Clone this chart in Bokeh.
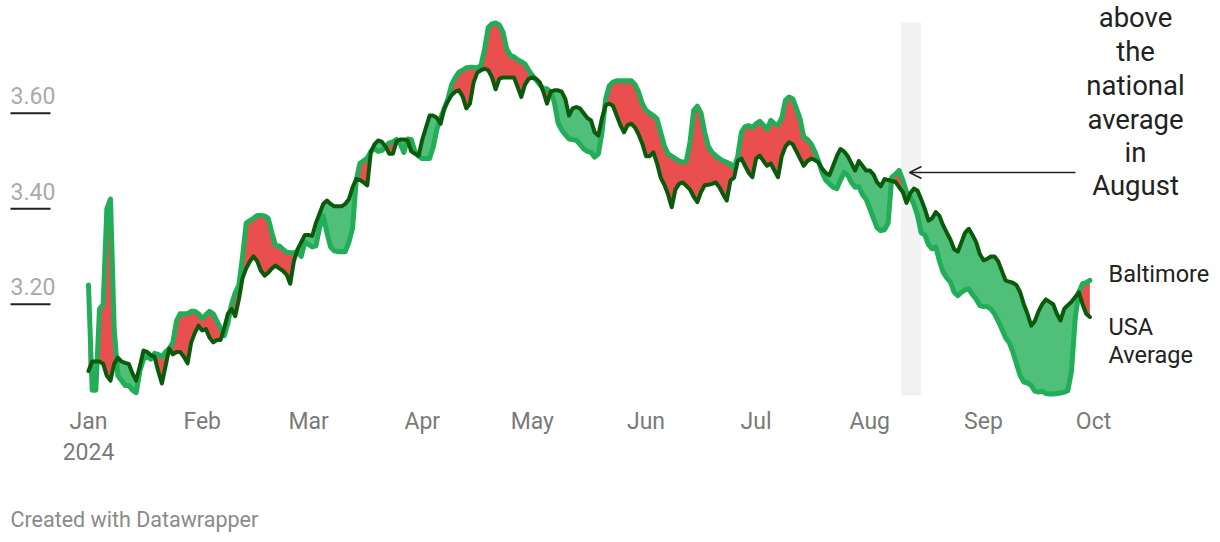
import numpy as np
import pandas as pd
from bokeh.plotting import figure
from bokeh.models import Range1d, Arrow, OpenHead
from bokeh.embed import file_html
from bokeh.resources import INLINE
from bokeh.core.properties import value

# ---------------- data ----------------
start_date = "2024-01-01"

baltimore = [
    3.24, 3.02, 3.02, 3.19, 3.20, 3.40, 3.42, 3.15, 3.05, 3.04,
    3.03, 3.03, 3.02, 3.015, 3.06, 3.085, 3.09, 3.085, 3.097, 3.095,
    3.09, 3.10, 3.107, 3.12, 3.165, 3.18, 3.18, 3.18, 3.185, 3.185,
    3.18, 3.17, 3.178, 3.185, 3.18, 3.165, 3.15, 3.134, 3.16, 3.20,
    3.224, 3.24, 3.30, 3.37, 3.375, 3.38, 3.386, 3.386, 3.385, 3.38,
    3.35, 3.323, 3.322, 3.315, 3.309, 3.308, 3.308, 3.31, 3.30, 3.33,
    3.325, 3.32, 3.322, 3.36, 3.385, 3.35, 3.32, 3.312, 3.31, 3.31,
    3.31, 3.33, 3.36, 3.46, 3.495, 3.50, 3.506, 3.52, 3.525, 3.52,
    3.522, 3.53, 3.538, 3.54, 3.545, 3.535, 3.518, 3.546, 3.545, 3.52,
    3.51, 3.505, 3.505, 3.505, 3.53, 3.567, 3.59, 3.61, 3.63, 3.66,
    3.675, 3.686, 3.69, 3.695, 3.696, 3.696, 3.695, 3.70, 3.735, 3.78,
    3.787, 3.789, 3.785, 3.77, 3.735, 3.721, 3.718, 3.712, 3.708, 3.703,
    3.69, 3.679, 3.67, 3.66, 3.652, 3.651, 3.645, 3.623, 3.58, 3.565,
    3.555, 3.546, 3.545, 3.543, 3.535, 3.525, 3.52, 3.518, 3.508, 3.515,
    3.56, 3.63, 3.658, 3.665, 3.668, 3.668, 3.668, 3.668, 3.668, 3.66,
    3.644, 3.62, 3.606, 3.60, 3.595, 3.588, 3.56, 3.532, 3.515, 3.51,
    3.505, 3.50, 3.497, 3.50, 3.54, 3.606, 3.615, 3.60, 3.56, 3.53,
    3.518, 3.511, 3.505, 3.50, 3.497, 3.494, 3.485, 3.51, 3.56, 3.572,
    3.574, 3.57, 3.578, 3.583, 3.575, 3.566, 3.585, 3.578, 3.575, 3.59,
    3.627, 3.634, 3.63, 3.61, 3.588, 3.55, 3.545, 3.536, 3.52, 3.50,
    3.476, 3.46, 3.452, 3.445, 3.442, 3.46, 3.476, 3.47, 3.455, 3.445,
    3.446, 3.43, 3.42, 3.40, 3.38, 3.36, 3.354, 3.356, 3.37, 3.466,
    3.472, 3.48, 3.46, 3.435, 3.425, 3.41, 3.386, 3.35, 3.345, 3.325,
    3.316, 3.32, 3.29, 3.267, 3.255, 3.246, 3.225, 3.218, 3.225, 3.23,
    3.232, 3.22, 3.211, 3.197, 3.195, 3.195, 3.19, 3.18, 3.165, 3.148,
    3.13, 3.12, 3.10, 3.075, 3.05, 3.037, 3.035, 3.03, 3.018, 3.016,
    3.018, 3.013, 3.012, 3.012, 3.013, 3.014, 3.016, 3.019, 3.06, 3.17,
    3.225, 3.243, 3.245, 3.25,
]

usa_average = [
    3.06, 3.08, 3.08, 3.08, 3.075, 3.05, 3.04, 3.075, 3.088, 3.08,
    3.077, 3.075, 3.055, 3.04, 3.07, 3.103, 3.10, 3.093, 3.09, 3.06,
    3.034, 3.07, 3.107, 3.095, 3.10, 3.10, 3.09, 3.076, 3.12, 3.14,
    3.155, 3.145, 3.148, 3.13, 3.12, 3.125, 3.125, 3.15, 3.18, 3.19,
    3.175, 3.21, 3.255, 3.275, 3.29, 3.30, 3.29, 3.27, 3.26, 3.266,
    3.275, 3.281, 3.275, 3.27, 3.262, 3.243, 3.29, 3.315, 3.33, 3.345,
    3.345, 3.343, 3.37, 3.39, 3.41, 3.417, 3.41, 3.405, 3.405, 3.405,
    3.41, 3.42, 3.445, 3.462, 3.46, 3.455, 3.449, 3.52, 3.535, 3.543,
    3.54, 3.53, 3.515, 3.515, 3.541, 3.545, 3.545, 3.543, 3.52, 3.515,
    3.511, 3.545, 3.57, 3.595, 3.595, 3.59, 3.578, 3.61, 3.625, 3.638,
    3.645, 3.648, 3.635, 3.61, 3.62, 3.665, 3.685, 3.69, 3.693, 3.69,
    3.675, 3.65, 3.672, 3.675, 3.675, 3.675, 3.675, 3.655, 3.634, 3.66,
    3.672, 3.675, 3.672, 3.665, 3.645, 3.62, 3.645, 3.648, 3.648, 3.645,
    3.63, 3.595, 3.61, 3.613, 3.61, 3.60, 3.59, 3.585, 3.56, 3.553,
    3.59, 3.617, 3.62, 3.615, 3.595, 3.575, 3.56, 3.575, 3.578, 3.57,
    3.555, 3.536, 3.51, 3.51, 3.518, 3.495, 3.465, 3.45, 3.43, 3.403,
    3.44, 3.452, 3.455, 3.448, 3.44, 3.425, 3.414, 3.435, 3.449, 3.45,
    3.452, 3.455, 3.445, 3.43, 3.417, 3.459, 3.465, 3.50, 3.505, 3.49,
    3.475, 3.466, 3.505, 3.511, 3.50, 3.49, 3.495, 3.48, 3.466, 3.51,
    3.53, 3.539, 3.535, 3.52, 3.505, 3.49, 3.50, 3.505, 3.502, 3.497,
    3.484, 3.475, 3.47, 3.49, 3.51, 3.525, 3.52, 3.51, 3.495, 3.48,
    3.50, 3.49, 3.48, 3.48, 3.472, 3.455, 3.447, 3.462, 3.46, 3.458,
    3.456, 3.445, 3.435, 3.412, 3.432, 3.442, 3.438, 3.42, 3.40, 3.375,
    3.38, 3.393, 3.385, 3.365, 3.35, 3.335, 3.315, 3.31, 3.33, 3.35,
    3.358, 3.345, 3.33, 3.305, 3.292, 3.295, 3.30, 3.30, 3.29, 3.27,
    3.25, 3.247, 3.245, 3.24, 3.225, 3.20, 3.18, 3.155, 3.165, 3.185,
    3.20, 3.21, 3.205, 3.20, 3.18, 3.166, 3.19, 3.198, 3.205, 3.215,
    3.225, 3.20, 3.18, 3.173,
]

month_labels = ["Jan", "Feb", "Mar", "Apr", "May", "Jun", "Jul", "Aug", "Sep", "Oct"]
month_starts = ["2024-01-01", "2024-02-01", "2024-03-01", "2024-04-01", "2024-05-01",
                "2024-06-01", "2024-07-01", "2024-08-01", "2024-09-01", "2024-10-01"]
year_label = "2024"
y_ticks = [3.20, 3.40, 3.60]
y_tick_labels = ["3.20", "3.40", "3.60"]
highlight_start = "2024-08-09 12:00"
highlight_end = "2024-08-15"
annotation_lines = ["above", "the", "national", "average", "in", "August"]
series_labels = ["Baltimore", "USA", "Average"]
credit = "Created with Datawrapper"

# ---------------- layout helpers (pixel -> data) ----------------
W, H = 1220, 542
X0PX, PX_PER_DAY = 88.0, 3.668
Y360PX, PX_PER_UNIT = 112.7, 477.5


def xd(px):
    return (px - X0PX) / PX_PER_DAY


def yd(py):
    return 3.60 - (py - Y360PX) / PX_PER_UNIT


t0 = pd.Timestamp(start_date)
dates = pd.date_range(start_date, periods=len(baltimore), freq="D")
x = np.array([(d - t0).days for d in dates], dtype=float)
b = np.array(baltimore)
u = np.array(usa_average)

# fill boundaries with crossing points inserted
xs, bs, us = [x[0]], [b[0]], [u[0]]
diff = b - u
for i in range(1, len(x)):
    d0, d1 = diff[i - 1], diff[i]
    if d0 * d1 < 0:
        t = d0 / (d0 - d1)
        xc = x[i - 1] + t * (x[i] - x[i - 1])
        yc = b[i - 1] + t * (b[i] - b[i - 1])
        xs.append(xc); bs.append(yc); us.append(yc)
    xs.append(x[i]); bs.append(b[i]); us.append(u[i])
xs, bs, us = np.array(xs), np.array(bs), np.array(us)

p = figure(width=W, height=H, output_backend="svg", toolbar_location=None,
           x_range=Range1d(xd(0), xd(W)), y_range=Range1d(yd(H), yd(0)),
           x_axis_location=None, y_axis_location=None, min_border=0)
p.grid.visible = False
p.outline_line_color = None
p.background_fill_color = "white"
p.border_fill_color = "white"

FONT = value("Roboto")

# highlight band
hs = (pd.Timestamp(highlight_start) - t0) / pd.Timedelta(days=1)
he = (pd.Timestamp(highlight_end) - t0) / pd.Timedelta(days=1)
p.quad(left=[hs], right=[he], bottom=[yd(395)], top=[yd(22)],
       fill_color="#f2f2f2", line_color=None)

# fills
p.varea(x=xs, y1=us, y2=np.maximum(bs, us), fill_color="#e94f4f")
p.varea(x=xs, y1=np.minimum(bs, us), y2=us, fill_color="#50bf79")

# lines
p.line(x, b, line_width=5, line_color="#22ae58", line_join="round", line_cap="round")
p.line(x, u, line_width=4, line_color="#0a5a0c", line_join="round", line_cap="round")

# y tick marks and labels
p.segment(x0=[xd(10)] * 3, x1=[xd(50)] * 3, y0=y_ticks, y1=y_ticks,
          line_color="#222222", line_width=2)
p.text(x=[xd(10)] * 3, y=[v + 17.7 / PX_PER_UNIT for v in y_ticks], text=y_tick_labels,
       text_font=FONT, text_font_size="23px", text_color="#aaaaaa",
       text_align="left", text_baseline="middle")

# month labels
mx = [(pd.Timestamp(m) - t0).days for m in month_starts]
p.text(x=mx, y=[yd(421)] * len(mx), text=month_labels,
       text_font=FONT, text_font_size="23px", text_color="#7a7a7a",
       text_align="center", text_baseline="middle")
p.text(x=[mx[0]], y=[yd(451)], text=[year_label],
       text_font=FONT, text_font_size="23px", text_color="#7a7a7a",
       text_align="center", text_baseline="middle")

# series labels
p.text(x=[xd(1108)] * 3, y=[yd(273), yd(326), yd(354)], text=series_labels,
       text_font=FONT, text_font_size="23.5px", text_color="#222222",
       text_align="left", text_baseline="middle")

# annotation
ann_y = [17, 51, 84.5, 118.5, 151.5, 185]
p.text(x=[xd(1135)] * len(annotation_lines), y=[yd(v) for v in ann_y], text=annotation_lines,
       text_font=FONT, text_font_size="27.5px", text_color="#222222",
       text_align="center", text_baseline="middle")
p.add_layout(Arrow(end=OpenHead(size=12, line_color="#222222", line_width=1.5),
                   x_start=xd(1075), y_start=yd(172), x_end=xd(909), y_end=yd(172),
                   line_color="#222222", line_width=1.5))

# credit
p.text(x=[xd(10)], y=[yd(519)], text=[credit],
       text_font=FONT, text_font_size="21.5px", text_color="#8a8a8a",
       text_align="left", text_baseline="middle")

open("out.html", "w").write(file_html(p, INLINE))
